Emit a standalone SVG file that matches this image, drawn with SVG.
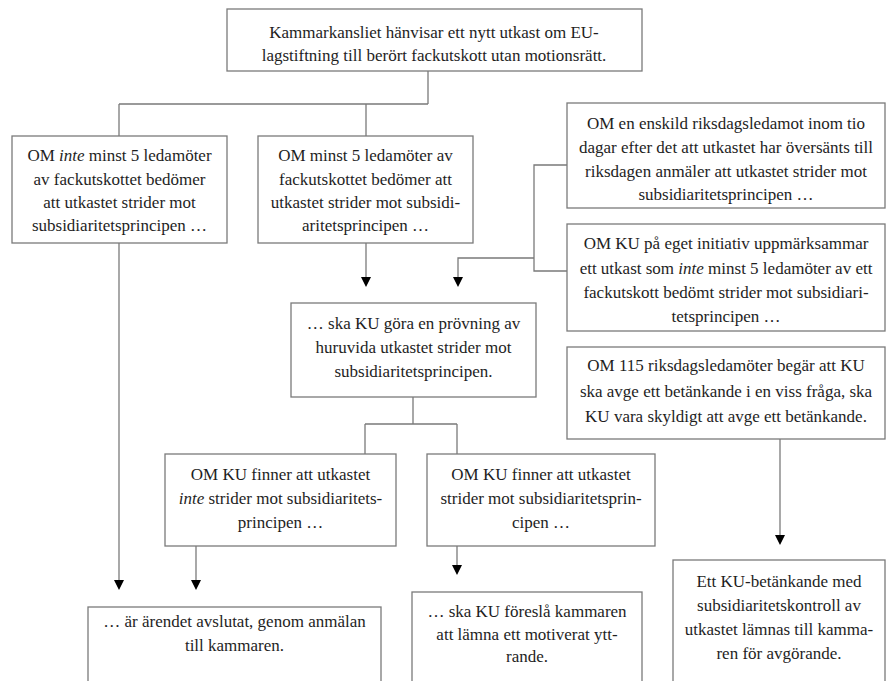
<svg xmlns="http://www.w3.org/2000/svg" width="886" height="681" viewBox="0 0 886 681">
<style>
.box{fill:#fff;stroke:#7a7a7a;stroke-width:1.3}
.ln{fill:none;stroke:#7a7a7a;stroke-width:1.3}
text{font-family:"Liberation Serif","Times New Roman",serif;font-size:17px;fill:#1e1e1e;text-anchor:middle}
.i{font-style:italic}
</style>
<rect width="886" height="681" fill="#fff"/>
<g id="connectors">
<path class="ln" d="M428,71 V104 M119,104 H428 M119,104 V136 M366,104 V136"/>
<path class="ln" d="M119,243 V580"/>
<path class="ln" d="M366,243 V277"/>
<path class="ln" d="M567,165 H534 V271 H567 M534,258 H458 V277"/>
<path class="ln" d="M413,397 V424 M365,424 H457 M365,424 V454 M457,424 V454"/>
<path class="ln" d="M196,546 V580"/>
<path class="ln" d="M457,546 V565"/>
<path class="ln" d="M780,439 V535"/>
<path d="M114,580 H124 L119,590 Z M191,580 H201 L196,590 Z M361,277 H371 L366,287 Z M453,277 H463 L458,287 Z M452,565 H462 L457,575 Z M775,535 H785 L780,545 Z" fill="#000"/>
</g>
<g id="n0">
<rect class="box" x="227" y="9" width="415" height="62"/>
<text x="434" y="38">Kammarkansliet hänvisar ett nytt utkast om EU-</text>
<text x="434" y="61">lagstiftning till berört fackutskott utan motionsrätt.</text>
</g>
<g id="n1">
<rect class="box" x="12" y="136" width="215" height="107"/>
<text x="119.5" y="161">OM <tspan class="i">inte</tspan> minst 5 ledamöter</text>
<text x="119.5" y="185">av fackutskottet bedömer</text>
<text x="119.5" y="208">att utkastet strider mot</text>
<text x="119.5" y="231">subsidiaritetsprincipen …</text>
</g>
<g id="n2">
<rect class="box" x="258" y="136" width="215" height="107"/>
<text x="365.5" y="161">OM minst 5 ledamöter av</text>
<text x="365.5" y="185">fackutskottet bedömer att</text>
<text x="365.5" y="208">utkastet strider mot subsidi-</text>
<text x="365.5" y="231">aritetsprincipen …</text>
</g>
<g id="n3">
<rect class="box" x="567" y="103" width="318" height="105"/>
<text x="726" y="129">OM en enskild riksdagsledamot inom tio</text>
<text x="726" y="153">dagar efter det att utkastet har översänts till</text>
<text x="726" y="177">riksdagen anmäler att utkastet strider mot</text>
<text x="726" y="200">subsidiaritetsprincipen …</text>
</g>
<g id="n4">
<rect class="box" x="567" y="224" width="318" height="107"/>
<text x="726" y="249">OM KU på eget initiativ uppmärksammar</text>
<text x="726" y="274">ett utkast som <tspan class="i">inte</tspan> minst 5 ledamöter av ett</text>
<text x="726" y="298">fackutskott bedömt strider mot subsidiari-</text>
<text x="726" y="322">tetsprincipen …</text>
</g>
<g id="n5">
<rect class="box" x="567" y="347" width="318" height="92"/>
<text x="726" y="371">OM 115 riksdagsledamöter begär att KU</text>
<text x="726" y="397">ska avge ett betänkande i en viss fråga, ska</text>
<text x="726" y="422">KU vara skyldigt att avge ett betänkande.</text>
</g>
<g id="n6">
<rect class="box" x="291" y="303" width="245" height="94"/>
<text x="413.5" y="329">… ska KU göra en prövning av</text>
<text x="413.5" y="353">huruvida utkastet strider mot</text>
<text x="413.5" y="377">subsidiaritetsprincipen.</text>
</g>
<g id="n7">
<rect class="box" x="165" y="454" width="231" height="92"/>
<text x="280.5" y="480">OM KU finner att utkastet</text>
<text x="280.5" y="504"><tspan class="i">inte</tspan> strider mot subsidiaritets-</text>
<text x="280.5" y="528">principen …</text>
</g>
<g id="n8">
<rect class="box" x="427" y="454" width="228" height="92"/>
<text x="541" y="480">OM KU finner att utkastet</text>
<text x="541" y="504">strider mot subsidiaritetsprin-</text>
<text x="541" y="528">cipen …</text>
</g>
<g id="n9">
<rect class="box" x="88" y="607" width="293" height="90"/>
<text x="234.5" y="627">… är ärendet avslutat, genom anmälan</text>
<text x="234.5" y="651">till kammaren.</text>
</g>
<g id="n10">
<rect class="box" x="412" y="592" width="230" height="100"/>
<text x="527" y="617">… ska KU föreslå kammaren</text>
<text x="527" y="640">att lämna ett motiverat ytt-</text>
<text x="527" y="662">rande.</text>
</g>
<g id="n11">
<rect class="box" x="673" y="560" width="212" height="130"/>
<text x="779" y="587">Ett KU-betänkande med</text>
<text x="779" y="611">subsidiaritetskontroll av</text>
<text x="779" y="635">utkastet lämnas till kamma-</text>
<text x="779" y="659">ren för avgörande.</text>
</g>
</svg>
